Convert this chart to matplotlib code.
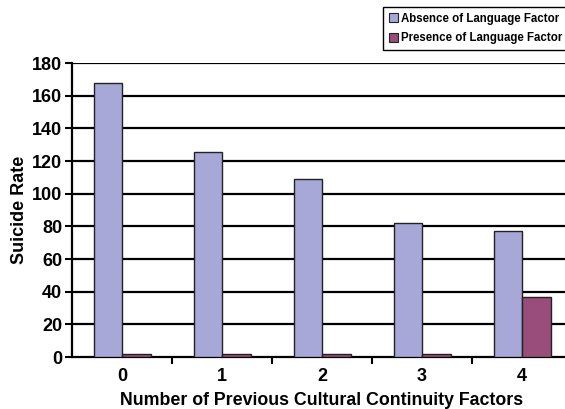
import numpy as np
import matplotlib.pyplot as plt
from matplotlib.patches import Patch

plt.rcParams['font.family'] = ['Liberation Sans', 'DejaVu Sans']
plt.rcParams['font.weight'] = 'bold'

# --- data ---
categories = ['0', '1', '2', '3', '4']
absence = [167.5, 125.7, 109.2, 81.9, 77.3]
presence = [1.8, 1.8, 1.8, 1.8, 36.9]
series_names = ['Absence of Language Factor', 'Presence of Language Factor']
y_ticks = [0, 20, 40, 60, 80, 100, 120, 140, 160, 180]

COL_ABS = '#A8A8D8'
COL_PRES = '#994D7A'

W, H = 565, 409
fig = plt.figure(figsize=(W / 100, H / 100), dpi=100)
# axes runs a little past the right edge of the image, like the original
ax = fig.add_axes([72 / W, 1 - 357 / H, 500 / W, 294 / H])

x = np.arange(len(categories))
bw = 0.285
ax.bar(x - bw / 2, absence, bw, color=COL_ABS, edgecolor='#222222', linewidth=1.0, zorder=3)
ax.bar(x + bw / 2, presence, bw, color=COL_PRES, edgecolor='#222222', linewidth=1.0, zorder=3)

ax.set_xlim(-0.5, len(categories) - 0.5)
ax.set_ylim(0, 180)
ax.set_yticks(y_ticks)
for yv in y_ticks[1:]:
    ax.axhline(yv, color='black', linewidth=1.6, zorder=1)

# category labels centred, tick marks between categories
ax.set_xticks(x)
ax.set_xticklabels(categories, fontsize=13, fontweight='bold')
ax.tick_params(axis='x', length=0, pad=8)
ax.set_xticks(np.arange(0.5, len(categories) - 0.5, 1.0), minor=True)
ax.tick_params(axis='x', which='minor', length=5, width=1.5, direction='out')
ax.tick_params(axis='y', length=5, width=1.5, direction='out', labelsize=13, pad=2)
for lbl in ax.get_yticklabels():
    lbl.set_fontweight('bold')

for s in ['top', 'right']:
    ax.spines[s].set_visible(False)
ax.spines['left'].set_linewidth(1.6)
ax.spines['bottom'].set_linewidth(1.6)

ax.set_xlabel('Number of Previous Cultural Continuity Factors', fontsize=12.8, fontweight='bold', labelpad=5)
ax.set_ylabel('Suicide Rate', fontsize=13, fontweight='bold', labelpad=3)

handles = [Patch(facecolor=COL_ABS, edgecolor='#222222', linewidth=0.8),
           Patch(facecolor=COL_PRES, edgecolor='#222222', linewidth=0.8)]
leg = fig.legend(handles, series_names, loc='upper left',
                 bbox_to_anchor=(383 / W, 1 - 7 / H),
                 prop={'weight': 'bold', 'size': 8.3},
                 handlelength=0.8, handleheight=0.8, handletextpad=0.3,
                 labelspacing=0.65, borderpad=0.5, borderaxespad=0,
                 fancybox=False, framealpha=1, edgecolor='black')
leg.get_frame().set_linewidth(1.0)

fig.savefig('out.png', dpi=100)
